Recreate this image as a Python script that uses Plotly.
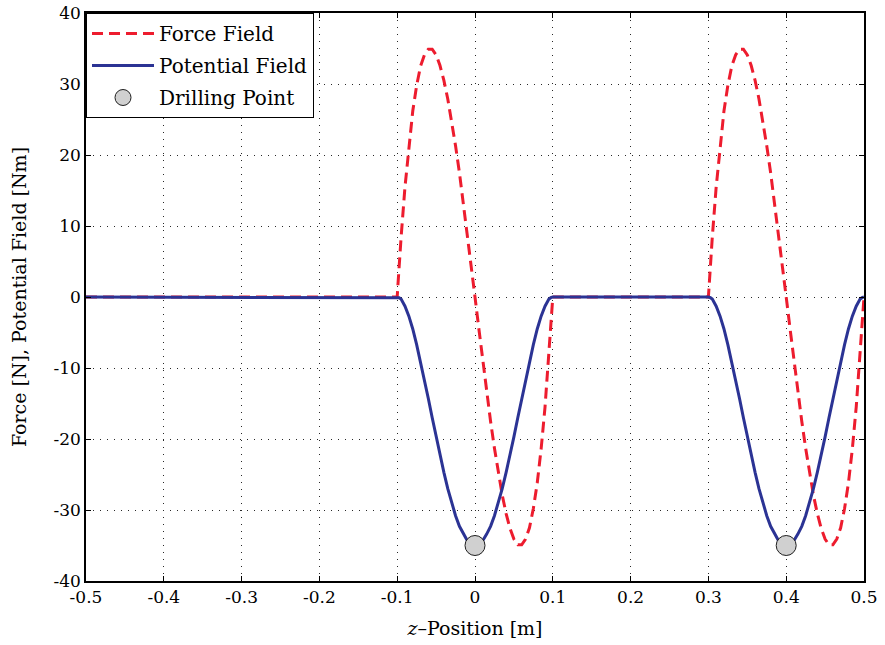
import plotly.graph_objects as go

# Lobe profile: offset from drilling point (m)
lobe_offset = [-0.1, -0.099, -0.0975, -0.095, -0.09, -0.085, -0.08, -0.075, -0.07, -0.065,
               -0.06, -0.055, -0.05, -0.045, -0.04, -0.035, -0.03, -0.025, -0.02, -0.015,
               -0.01, -0.005, 0.0, 0.005, 0.01, 0.015, 0.02, 0.025, 0.03, 0.035, 0.04,
               0.045, 0.05, 0.055, 0.06, 0.065, 0.07, 0.075, 0.08, 0.085, 0.09, 0.095,
               0.0975, 0.099, 0.1]
lobe_force = [0.0, 1.8, 4.4, 8.4, 15.5, 21.4, 26.2, 29.8, 32.5, 34.1,
              34.9, 34.9, 34.1, 32.6, 30.5, 27.9, 24.8, 21.3, 17.5, 13.3,
              9.0, 4.5, 0.0, -4.5, -9.0, -13.3, -17.5, -21.3, -24.8, -27.9, -30.5,
              -32.6, -34.1, -34.9, -34.9, -34.1, -32.5, -29.8, -26.2, -21.4, -15.5, -8.4,
              -4.4, -1.8, 0.0]
lobe_potential = [0.0, 0.0, -0.1, -0.3, -1.3, -2.7, -4.5, -6.7, -9.1, -11.7,
                  -14.3, -17.0, -19.7, -22.3, -24.7, -27.0, -29.0, -30.8, -32.3, -33.4,
                  -34.3, -34.8, -35.0, -34.8, -34.3, -33.4, -32.3, -30.8, -29.0, -27.0, -24.7,
                  -22.3, -19.7, -17.0, -14.3, -11.7, -9.1, -6.7, -4.5, -2.7, -1.3, -0.3,
                  -0.1, 0.0, 0.0]

# Drilling points
drill_z = [0.0, 0.4]
drill_val = [-35.0, -35.0]

# Flat segments start
z_start = -0.5

x_ticks = [-0.5, -0.4, -0.3, -0.2, -0.1, 0, 0.1, 0.2, 0.3, 0.4, 0.5]
x_tick_text = ["-0.5", "-0.4", "-0.3", "-0.2", "-0.1", "0", "0.1", "0.2", "0.3", "0.4", "0.5"]
y_ticks = [-40, -30, -20, -10, 0, 10, 20, 30, 40]
y_tick_text = ["-40", "-30", "-20", "-10", "0", "10", "20", "30", "40"]

# Build full series
z_all, f_all, p_all = [z_start], [0.0], [0.0]
for c in drill_z:
    for o, f, p in zip(lobe_offset, lobe_force, lobe_potential):
        z_all.append(round(c + o, 5))
        f_all.append(f)
        p_all.append(p)

RED = "rgb(237,28,46)"
BLUE = "rgb(43,51,148)"
FONT = "DejaVu Serif"

fig = go.Figure()
fig.add_trace(go.Scatter(x=z_all, y=f_all, mode="lines", name="Force Field", legendgroup="a",
                         line=dict(color=RED, width=3, dash="11px,6px")))
fig.add_trace(go.Scatter(x=z_all, y=p_all, mode="lines", name="Potential Field", legendgroup="b",
                         line=dict(color=BLUE, width=3)))
fig.add_trace(go.Scatter(x=drill_z, y=drill_val, mode="markers", name="Drilling Point",
                         legendgroup="c",
                         marker=dict(size=20, color="rgb(208,208,208)",
                                     line=dict(color="rgb(30,30,30)", width=1))))

axis_common = dict(showline=True, linecolor="black", linewidth=1.5, mirror="ticks",
                   ticks="inside", ticklen=5, tickcolor="black", showgrid=True,
                   gridcolor="rgb(40,40,40)", griddash="1px,6px", gridwidth=1,
                   zeroline=False, automargin=False,
                   tickfont=dict(family=FONT, size=17, color="black"))

fig.update_xaxes(range=[-0.5, 0.5], tickvals=x_ticks, ticktext=x_tick_text,
                 title=dict(text="<i>z</i>–Position [m]", font=dict(family=FONT, size=19, color="black"),
                            standoff=16),
                 **axis_common)
fig.update_yaxes(range=[-40, 40], tickvals=y_ticks, ticktext=y_tick_text,
                 title=dict(text="Force [N], Potential Field [Nm]",
                            font=dict(family=FONT, size=19, color="black"), standoff=22),
                 **axis_common)

fig.update_layout(width=885, height=645, paper_bgcolor="white", plot_bgcolor="white",
                  margin=dict(l=86, r=21, t=13, b=64),
                  font=dict(family=FONT, color="black"),
                  legend=dict(x=0, y=1, xanchor="left", yanchor="top",
                              bordercolor="black", borderwidth=1, bgcolor="white",
                              font=dict(family=FONT, size=20, color="black"),
                              tracegroupgap=3, itemwidth=62))

fig.write_html("out.html", config={"displayModeBar": False},
               post_script="document.body.style.margin='0px';document.body.style.overflow='hidden';")
